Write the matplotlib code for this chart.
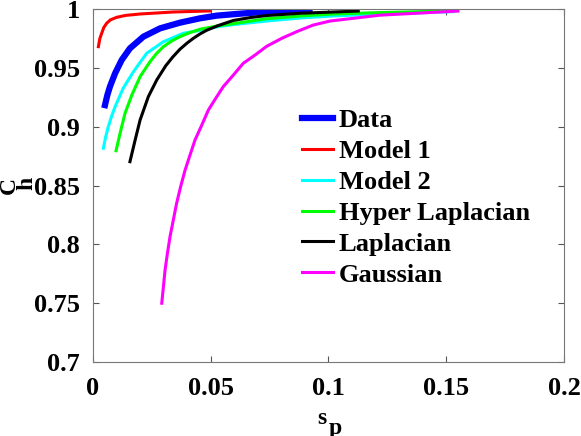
import matplotlib
matplotlib.use('Agg')
import matplotlib.pyplot as plt

# values
data_x = [0.0052, 0.0062, 0.0073, 0.0095, 0.0123, 0.0158, 0.0215, 0.0286, 0.0370, 0.0455, 0.0526, 0.0597, 0.0738, 0.0920]
data_y = [0.9185, 0.9270, 0.9342, 0.9456, 0.9569, 0.9668, 0.9767, 0.9838, 0.9886, 0.9923, 0.9946, 0.9958, 0.9980, 0.9992]

model1_x = [0.0024, 0.0030, 0.0038, 0.0047, 0.0059, 0.0075, 0.0102, 0.0140, 0.0201, 0.0342, 0.0498]
model1_y = [0.9682, 0.9750, 0.9796, 0.9845, 0.9881, 0.9910, 0.9932, 0.9948, 0.9960, 0.9977, 0.9986]

model2_x = [0.0045, 0.0055, 0.0066, 0.0080, 0.0095, 0.0130, 0.0172, 0.0229, 0.0300, 0.0384, 0.0469, 0.0533, 0.0597, 0.0738, 0.0880, 0.1021, 0.1219, 0.1530]
model2_y = [0.8818, 0.8915, 0.9001, 0.9090, 0.9172, 0.9331, 0.9467, 0.9626, 0.9724, 0.9796, 0.9825, 0.9853, 0.9870, 0.9900, 0.9926, 0.9943, 0.9960, 0.9980]

hyper_x = [0.0099, 0.0116, 0.0137, 0.0166, 0.0201, 0.0243, 0.0270, 0.0300, 0.0335, 0.0370, 0.0410, 0.0455, 0.0533, 0.0597, 0.0738, 0.0880, 0.1021, 0.1220, 0.1500]
hyper_y = [0.8797, 0.8945, 0.9115, 0.9271, 0.9427, 0.9554, 0.9622, 0.9682, 0.9730, 0.9767, 0.9800, 0.9830, 0.9860, 0.9878, 0.9920, 0.9943, 0.9960, 0.9972, 0.9985]

lap_x = [0.0158, 0.0180, 0.0201, 0.0236, 0.0272, 0.0310, 0.0340, 0.0370, 0.0400, 0.0427, 0.0455, 0.0484, 0.0533, 0.0597, 0.0670, 0.0738, 0.0880, 0.1127]
lap_y = [0.8704, 0.8888, 0.9058, 0.9257, 0.9400, 0.9520, 0.9595, 0.9660, 0.9712, 0.9753, 0.9790, 0.9822, 0.9862, 0.9905, 0.9930, 0.9947, 0.9966, 0.9985]

gauss_x = [0.0293, 0.0300, 0.0307, 0.0317, 0.0328, 0.0342, 0.0356, 0.0373, 0.0392, 0.0413, 0.0434, 0.0463, 0.0491, 0.0522, 0.0554, 0.0597, 0.0639, 0.0689, 0.0738, 0.0802, 0.0866, 0.0936, 0.1007, 0.1219, 0.1550]
gauss_y = [0.7500, 0.7641, 0.7783, 0.7925, 0.8066, 0.8208, 0.8350, 0.8491, 0.8633, 0.8761, 0.8888, 0.9016, 0.9144, 0.9243, 0.9342, 0.9441, 0.9541, 0.9611, 0.9685, 0.9753, 0.9810, 0.9866, 0.9900, 0.9950, 0.9985]

labels = ['Data', 'Model 1', 'Model 2', 'Hyper Laplacian', 'Laplacian', 'Gaussian']
xticks = [0, 0.05, 0.1, 0.15, 0.2]
xticklabels = ['0', '0.05', '0.1', '0.15', '0.2']
yticks = [0.7, 0.75, 0.8, 0.85, 0.9, 0.95, 1.0]
yticklabels = ['0.7', '0.75', '0.8', '0.85', '0.9', '0.95', '1']

plt.rcParams['font.family'] = ['Liberation Serif', 'DejaVu Serif']
plt.rcParams['font.weight'] = 'bold'

fig = plt.figure(figsize=(5.81, 4.36), dpi=100)
ax = fig.add_axes([0.1596, 0.1697, 0.8111, 0.8090])

ax.plot(data_x, data_y, color='#0000ff', lw=4.5, label=labels[0])
ax.plot(model1_x, model1_y, color='#ff0000', lw=2.2, label=labels[1])
ax.plot(model2_x, model2_y, color='#00ffff', lw=2.2, label=labels[2])
ax.plot(hyper_x, hyper_y, color='#00ff00', lw=2.2, label=labels[3])
ax.plot(lap_x, lap_y, color='#000000', lw=2.2, label=labels[4])
ax.plot(gauss_x, gauss_y, color='#ff00ff', lw=2.2, label=labels[5])

ax.set_xlim(0, 0.2)
ax.set_ylim(0.7, 1.0)
ax.set_xticks(xticks)
ax.set_xticklabels(xticklabels)
ax.set_yticks(yticks)
ax.set_yticklabels(yticklabels)
ax.tick_params(direction='in', length=4, width=0.8, color='#555555',
               top=True, right=True, labelsize=19)
ax.tick_params(axis='x', pad=11)
ax.tick_params(axis='y', pad=9)
for sp in ax.spines.values():
    sp.set_color('#777777')
    sp.set_linewidth(0.8)

# axis labels with MATLAB-like subscripts
ax.set_xlabel('s', fontsize=17, fontweight='bold')
ax.xaxis.set_label_coords(0.4855, -0.131)
ax.annotate('p', xy=(1, 0), xycoords=ax.xaxis.label, xytext=(2, 8),
            textcoords='offset points', fontsize=17, fontweight='bold',
            ha='left', va='top')
ax.set_ylabel('C', fontsize=17, fontweight='bold', labelpad=10)
ax.annotate('h', xy=(1, 1), xycoords=ax.yaxis.label, xytext=(-3, -9),
            textcoords='offset points', fontsize=17, fontweight='bold',
            rotation=90, ha='left', va='bottom')

ax.legend(loc='upper left', bbox_to_anchor=(0.4435, 0.718), frameon=False,
          prop={'family': 'Liberation Serif', 'weight': 'bold', 'size': 19},
          handlelength=1.2, handletextpad=0.2, labelspacing=0.28,
          borderpad=0, borderaxespad=0)

fig.savefig('out.png', dpi=100)
